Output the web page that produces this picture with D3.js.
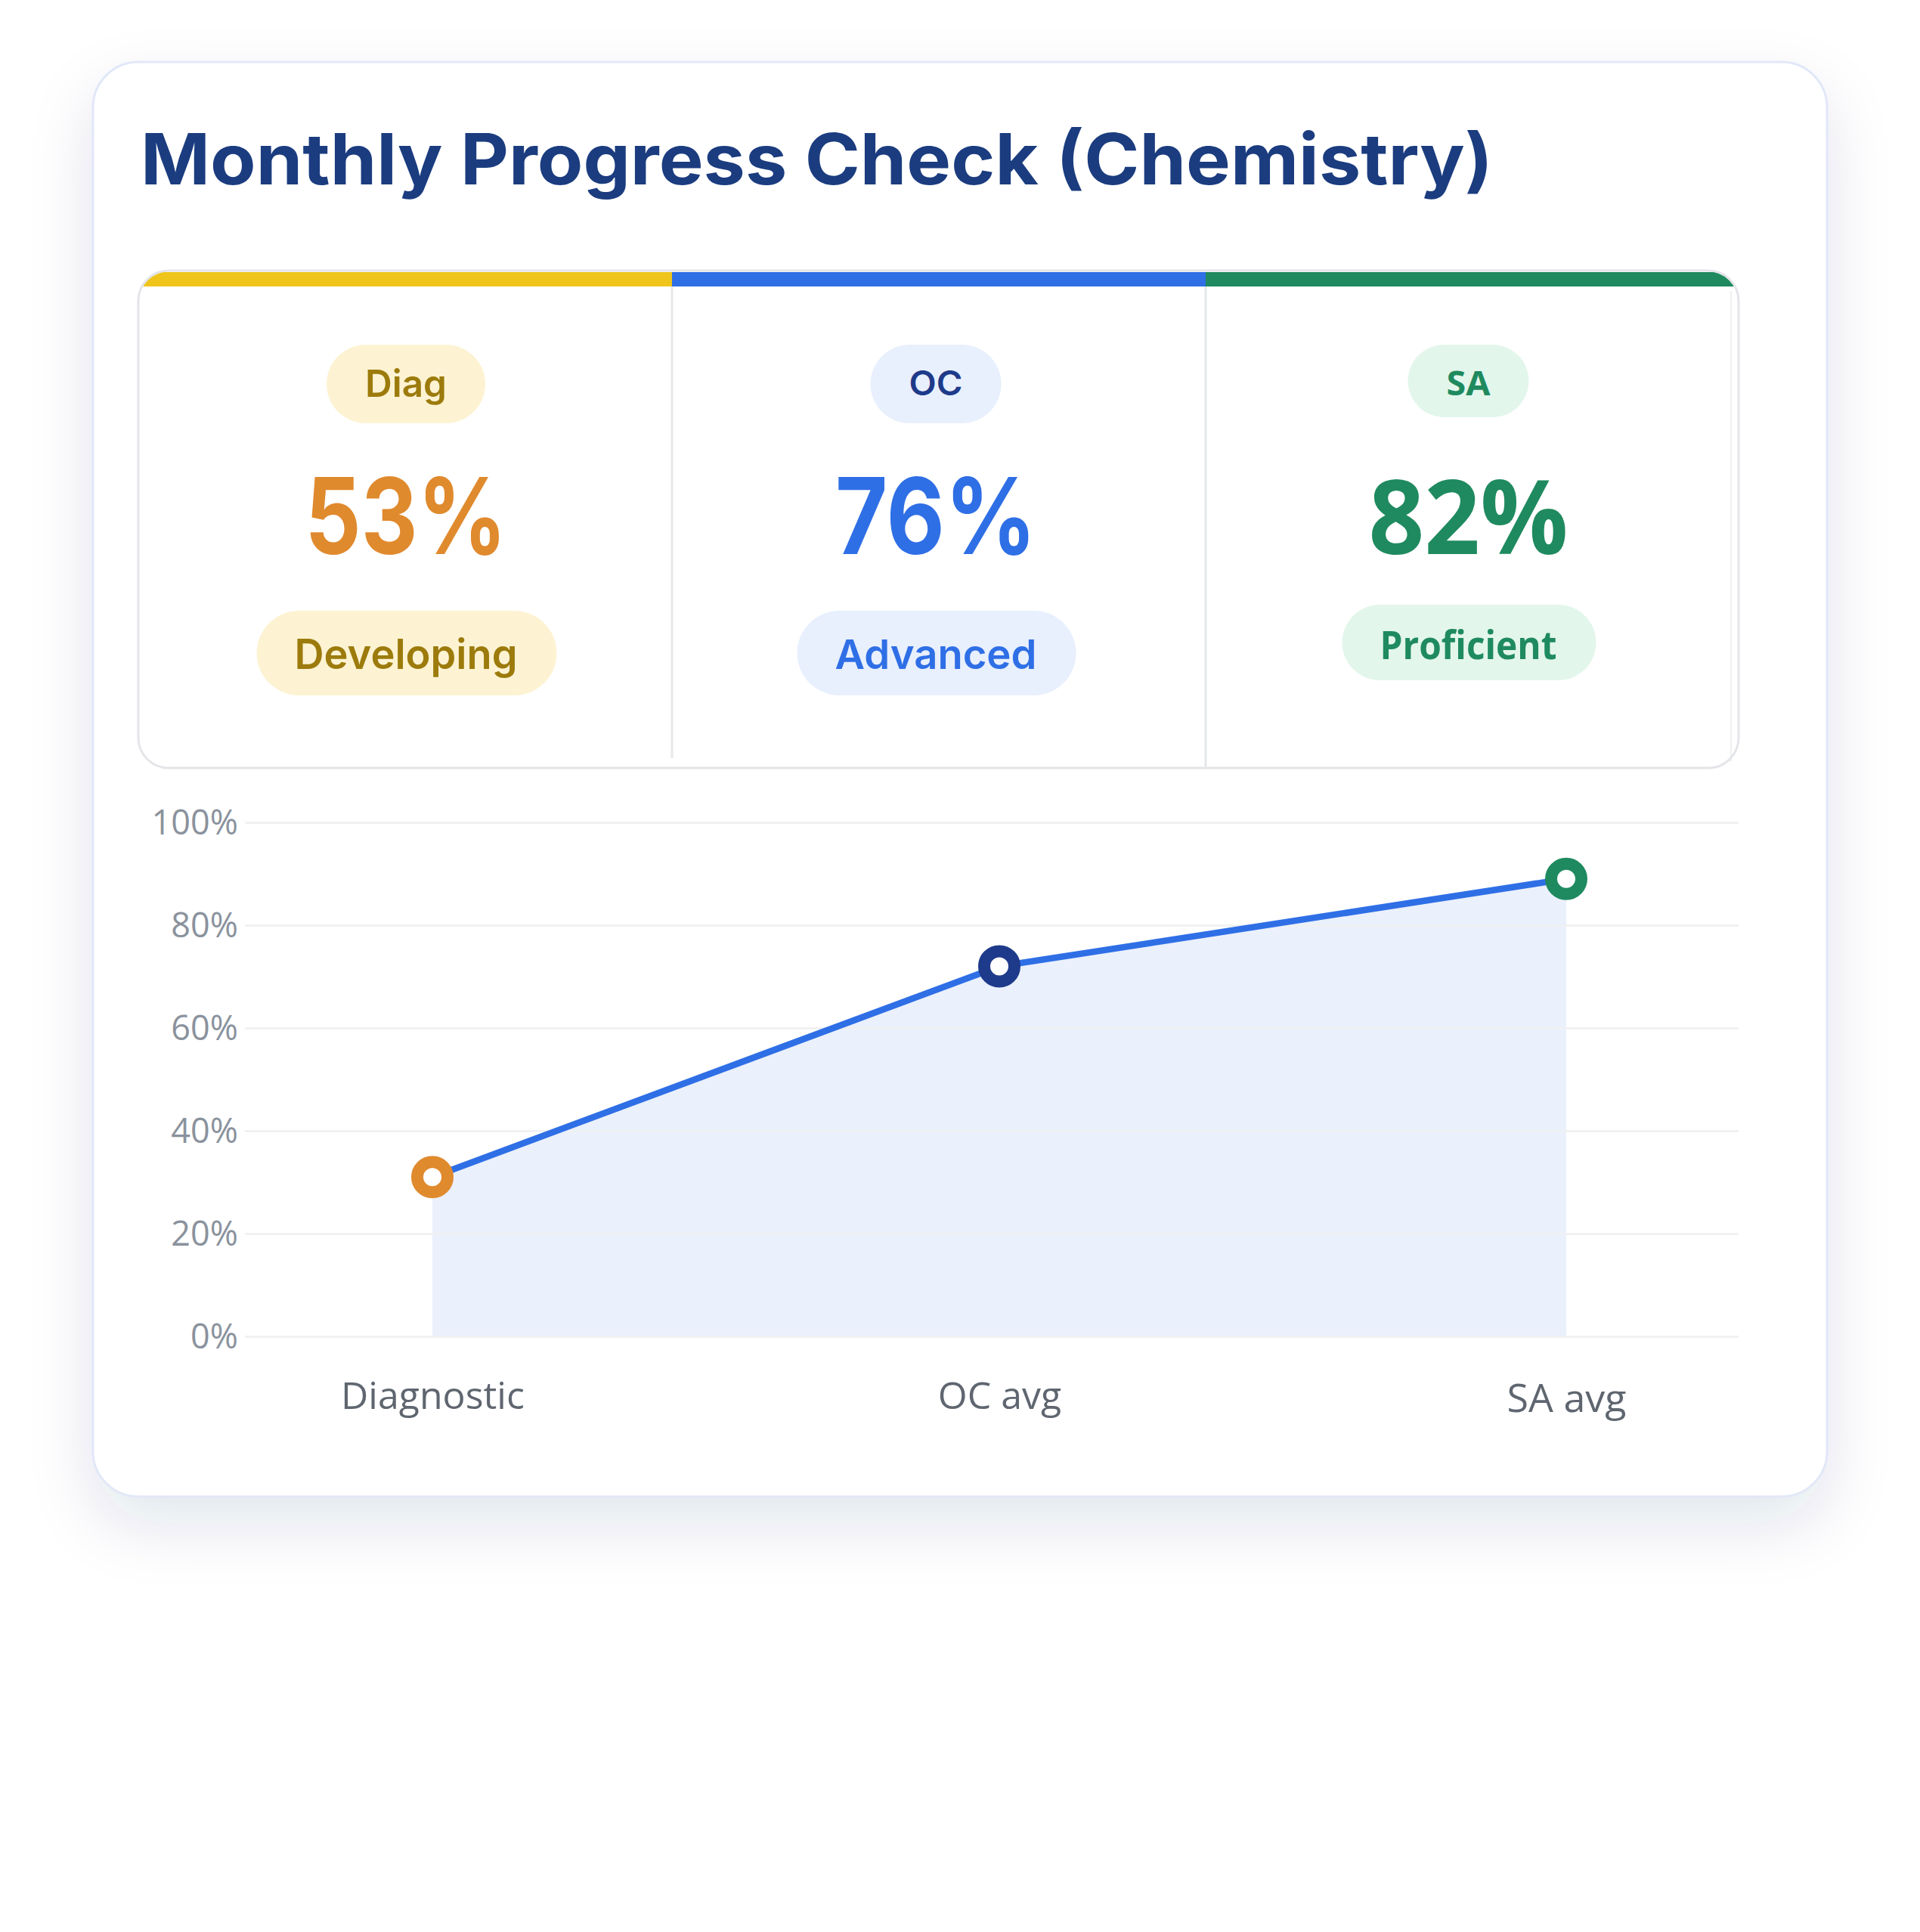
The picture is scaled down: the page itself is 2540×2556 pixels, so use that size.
<!DOCTYPE html>
<html>
<head>
<meta charset="utf-8">
<script src="https://cdn.jsdelivr.net/npm/d3@7"></script>
<style>
  html, body { margin: 0; padding: 0; background: #ffffff; }
  svg { display: block; }
</style>
</head>
<body>
<div id="chart"></div>
<script>
// ---------- data ----------
const title = "Monthly Progress Check (Chemistry)";
const stageLabels = ["Diag", "OC", "SA"];
const stageScores = [53, 76, 82];
const stageLevels = ["Developing", "Advanced", "Proficient"];
const categories = ["Diagnostic", "OC avg", "SA avg"];
const trendValues = [31, 72, 89];
const yTicks = [0, 20, 40, 60, 80, 100];

// ---------- styles / layout ----------
const W = 2540, H = 2556;
const stageStyle = [
  { bar: "#efc51c", pillBg: "#fdf3d3", pillText: "#9c7b0c", level: "#9c7b0c", num: "#e08a2e", font: "Inter, 'Noto Sans', sans-serif", weight: 600,
    tagSize: 50, tagW: 108, numSize: 140, numW: 267, lvlSize: 55, lvlW: 295, tagH: 104, lvlH: 112, lvlY: 808, lvlBase: 885 },
  { bar: "#2f6fe6", pillBg: "#e8effd", pillText: "#1e3a8a", level: "#2f6fe6", num: "#2f6fe6", font: "Inter, 'Noto Sans', sans-serif", weight: 600,
    tagSize: 45, tagW: 71, numSize: 140, numW: 266, lvlSize: 54, lvlW: 267, tagH: 104, lvlH: 112, lvlY: 808, lvlBase: 885 },
  { bar: "#1f8a5f", pillBg: "#e3f6ec", pillText: "#1f8a5f", level: "#1f8a5f", num: "#1f8a5f", font: "'Open Sans', 'Noto Sans', sans-serif", weight: 700,
    tagSize: 44, tagW: 58, numSize: 137, numW: 264, lvlSize: 52, lvlW: 234, tagH: 96, lvlH: 100, lvlY: 800, lvlBase: 872 }
];
const pointColors = ["#e08a2e", "#1e3a8a", "#1f8a5f"];

const svg = d3.select("#chart").append("svg")
  .attr("width", W).attr("height", H).attr("viewBox", `0 0 ${W} ${H}`);

const defs = svg.append("defs");
const sh = defs.append("filter").attr("id", "cardShadow")
  .attr("x", "-20%").attr("y", "-20%").attr("width", "140%").attr("height", "140%");
sh.append("feDropShadow").attr("dx", 0).attr("dy", 36).attr("stdDeviation", 42)
  .attr("flood-color", "#23306b").attr("flood-opacity", 0.12);

// ---------- card ----------
const card = { x: 123, y: 82, w: 2294, h: 1898, r: 60 };
svg.append("rect")
  .attr("x", card.x).attr("y", card.y).attr("width", card.w).attr("height", card.h)
  .attr("rx", card.r).attr("fill", "#ffffff").attr("filter", "url(#cardShadow)");
svg.append("rect")
  .attr("x", card.x).attr("y", card.y).attr("width", card.w).attr("height", card.h)
  .attr("rx", card.r).attr("fill", "none").attr("stroke", "#e2e8f8").attr("stroke-width", 3);

// title
svg.append("text")
  .attr("x", 186).attr("y", 244)
  .attr("font-family", "Inter, 'Noto Sans', sans-serif").attr("font-weight", 700)
  .attr("font-size", 93).attr("fill", "#1b3c7f")
  .attr("textLength", 1789).attr("lengthAdjust", "spacingAndGlyphs")
  .text(title);

// ---------- stat panel ----------
const panel = { x: 183, y: 358, w: 2117, h: 658, r: 40 };
const cellEdges = [183, 889, 1595, 2290];
defs.append("clipPath").attr("id", "panelClip")
  .append("rect").attr("x", panel.x).attr("y", panel.y).attr("width", panel.w).attr("height", panel.h).attr("rx", panel.r);

const pg = svg.append("g");
pg.append("rect").attr("x", panel.x).attr("y", panel.y).attr("width", panel.w).attr("height", panel.h)
  .attr("rx", panel.r).attr("fill", "#ffffff");

const barG = pg.append("g").attr("clip-path", "url(#panelClip)");
barG.selectAll("rect").data(stageLabels).join("rect")
  .attr("x", (d, i) => cellEdges[i])
  .attr("width", (d, i) => (i === 2 ? panel.x + panel.w : cellEdges[i + 1]) - cellEdges[i])
  .attr("y", 360).attr("height", 19)
  .attr("fill", (d, i) => stageStyle[i].bar);

// dividers
pg.append("line").attr("x1", cellEdges[1]).attr("x2", cellEdges[1]).attr("y1", 379).attr("y2", 1003)
  .attr("stroke", "#e6e7ea").attr("stroke-width", 3);
pg.append("line").attr("x1", cellEdges[2]).attr("x2", cellEdges[2]).attr("y1", 379).attr("y2", 1016)
  .attr("stroke", "#e6e7ea").attr("stroke-width", 3);
pg.append("line").attr("x1", cellEdges[3]).attr("x2", cellEdges[3]).attr("y1", 385).attr("y2", 1008)
  .attr("stroke", "#eeeff1").attr("stroke-width", 2);

pg.append("rect").attr("x", panel.x).attr("y", panel.y).attr("width", panel.w).attr("height", panel.h)
  .attr("rx", panel.r).attr("fill", "none").attr("stroke", "#e4e5e9").attr("stroke-width", 3);

const cells = pg.selectAll("g.cell").data(stageLabels).join("g").attr("class", "cell");
cells.each(function (d, i) {
  const g = d3.select(this);
  const s = stageStyle[i];
  const cx = (cellEdges[i] + cellEdges[i + 1]) / 2 + (i === 0 ? 1 : i === 1 ? -4 : 0);
  const pad = 51;
  // tag pill
  g.append("rect")
    .attr("x", cx - s.tagW / 2 - pad).attr("y", 456)
    .attr("width", s.tagW + 2 * pad).attr("height", s.tagH)
    .attr("rx", s.tagH / 2).attr("fill", s.pillBg);
  g.append("text")
    .attr("x", cx).attr("y", i === 0 ? 525 : 523).attr("text-anchor", "middle")
    .attr("font-family", s.font).attr("font-weight", i === 1 ? 600 : s.weight)
    .attr("font-size", s.tagSize).attr("fill", s.pillText)
    .attr("textLength", s.tagW).attr("lengthAdjust", "spacingAndGlyphs")
    .text(d);
  // big number
  g.append("text")
    .attr("x", cx).attr("y", 733).attr("text-anchor", "middle")
    .attr("font-family", s.font).attr("font-weight", s.weight === 600 ? 700 : s.weight)
    .attr("font-size", s.numSize).attr("fill", s.num)
    .attr("textLength", s.numW).attr("lengthAdjust", "spacingAndGlyphs")
    .text(stageScores[i] + "%");
  // level pill
  g.append("rect")
    .attr("x", cx - s.lvlW / 2 - pad + 1).attr("y", s.lvlY)
    .attr("width", s.lvlW + 2 * pad).attr("height", s.lvlH)
    .attr("rx", s.lvlH / 2).attr("fill", s.pillBg);
  g.append("text")
    .attr("x", cx).attr("y", s.lvlBase).attr("text-anchor", "middle")
    .attr("font-family", s.font).attr("font-weight", s.weight)
    .attr("font-size", s.lvlSize).attr("fill", s.level)
    .attr("textLength", s.lvlW).attr("lengthAdjust", "spacingAndGlyphs")
    .text(stageLevels[i]);
});

// ---------- line chart ----------
const plot = { left: 324, right: 2300, top: 1088, bottom: 1768 };
const y = d3.scaleLinear().domain([0, 100]).range([plot.bottom, plot.top]);
const x = d3.scalePoint().domain(categories).range([572, 2072]);

const chart = svg.append("g");

// area first (grid shows faintly through)
const series = categories.map((c, i) => ({ c, v: trendValues[i], i }));
chart.append("path").datum(series)
  .attr("d", d3.area().x(d => x(d.c)).y0(y(0)).y1(d => y(d.v)))
  .attr("fill", "#2f6fe6").attr("fill-opacity", 0.1);

// grid via axis
const yAxis = d3.axisLeft(y).tickValues(yTicks).tickSize(-(plot.right - plot.left)).tickPadding(9)
  .tickFormat(d => d + "%");
const ya = chart.append("g").attr("transform", `translate(${plot.left},0)`).call(yAxis);
ya.select(".domain").remove();
ya.selectAll(".tick line").attr("stroke", "#eeeff1").attr("stroke-width", 3).attr("stroke-opacity", 0.9);
ya.selectAll(".tick text")
  .attr("font-family", "'Open Sans', 'Noto Sans', sans-serif").attr("font-size", 45)
  .attr("fill", "#8a929d").attr("dy", "0.35em");

// x axis labels
const xAxis = d3.axisBottom(x).tickSize(0).tickPadding(0);
const xa = chart.append("g").attr("transform", `translate(0,${plot.bottom})`).call(xAxis);
xa.select(".domain").remove();
xa.selectAll(".tick text")
  .attr("font-family", "'Open Sans', 'Noto Sans', sans-serif")
  .attr("font-size", (d, i) => i === 2 ? 52 : 50)
  .attr("fill", "#5f6670")
  .attr("dy", null)
  .attr("y", (d, i) => i === 2 ? 100 : 96);

// line
chart.append("path").datum(series)
  .attr("d", d3.line().x(d => x(d.c)).y(d => y(d.v)))
  .attr("fill", "none").attr("stroke", "#2f6fe6").attr("stroke-width", 8.5)
  .attr("stroke-linejoin", "round");

// points
chart.selectAll("circle.pt").data(series).join("circle").attr("class", "pt")
  .attr("cx", d => x(d.c)).attr("cy", d => y(d.v)).attr("r", 20)
  .attr("fill", "#ffffff").attr("stroke", d => pointColors[d.i]).attr("stroke-width", 16);
</script>
</body>
</html>
